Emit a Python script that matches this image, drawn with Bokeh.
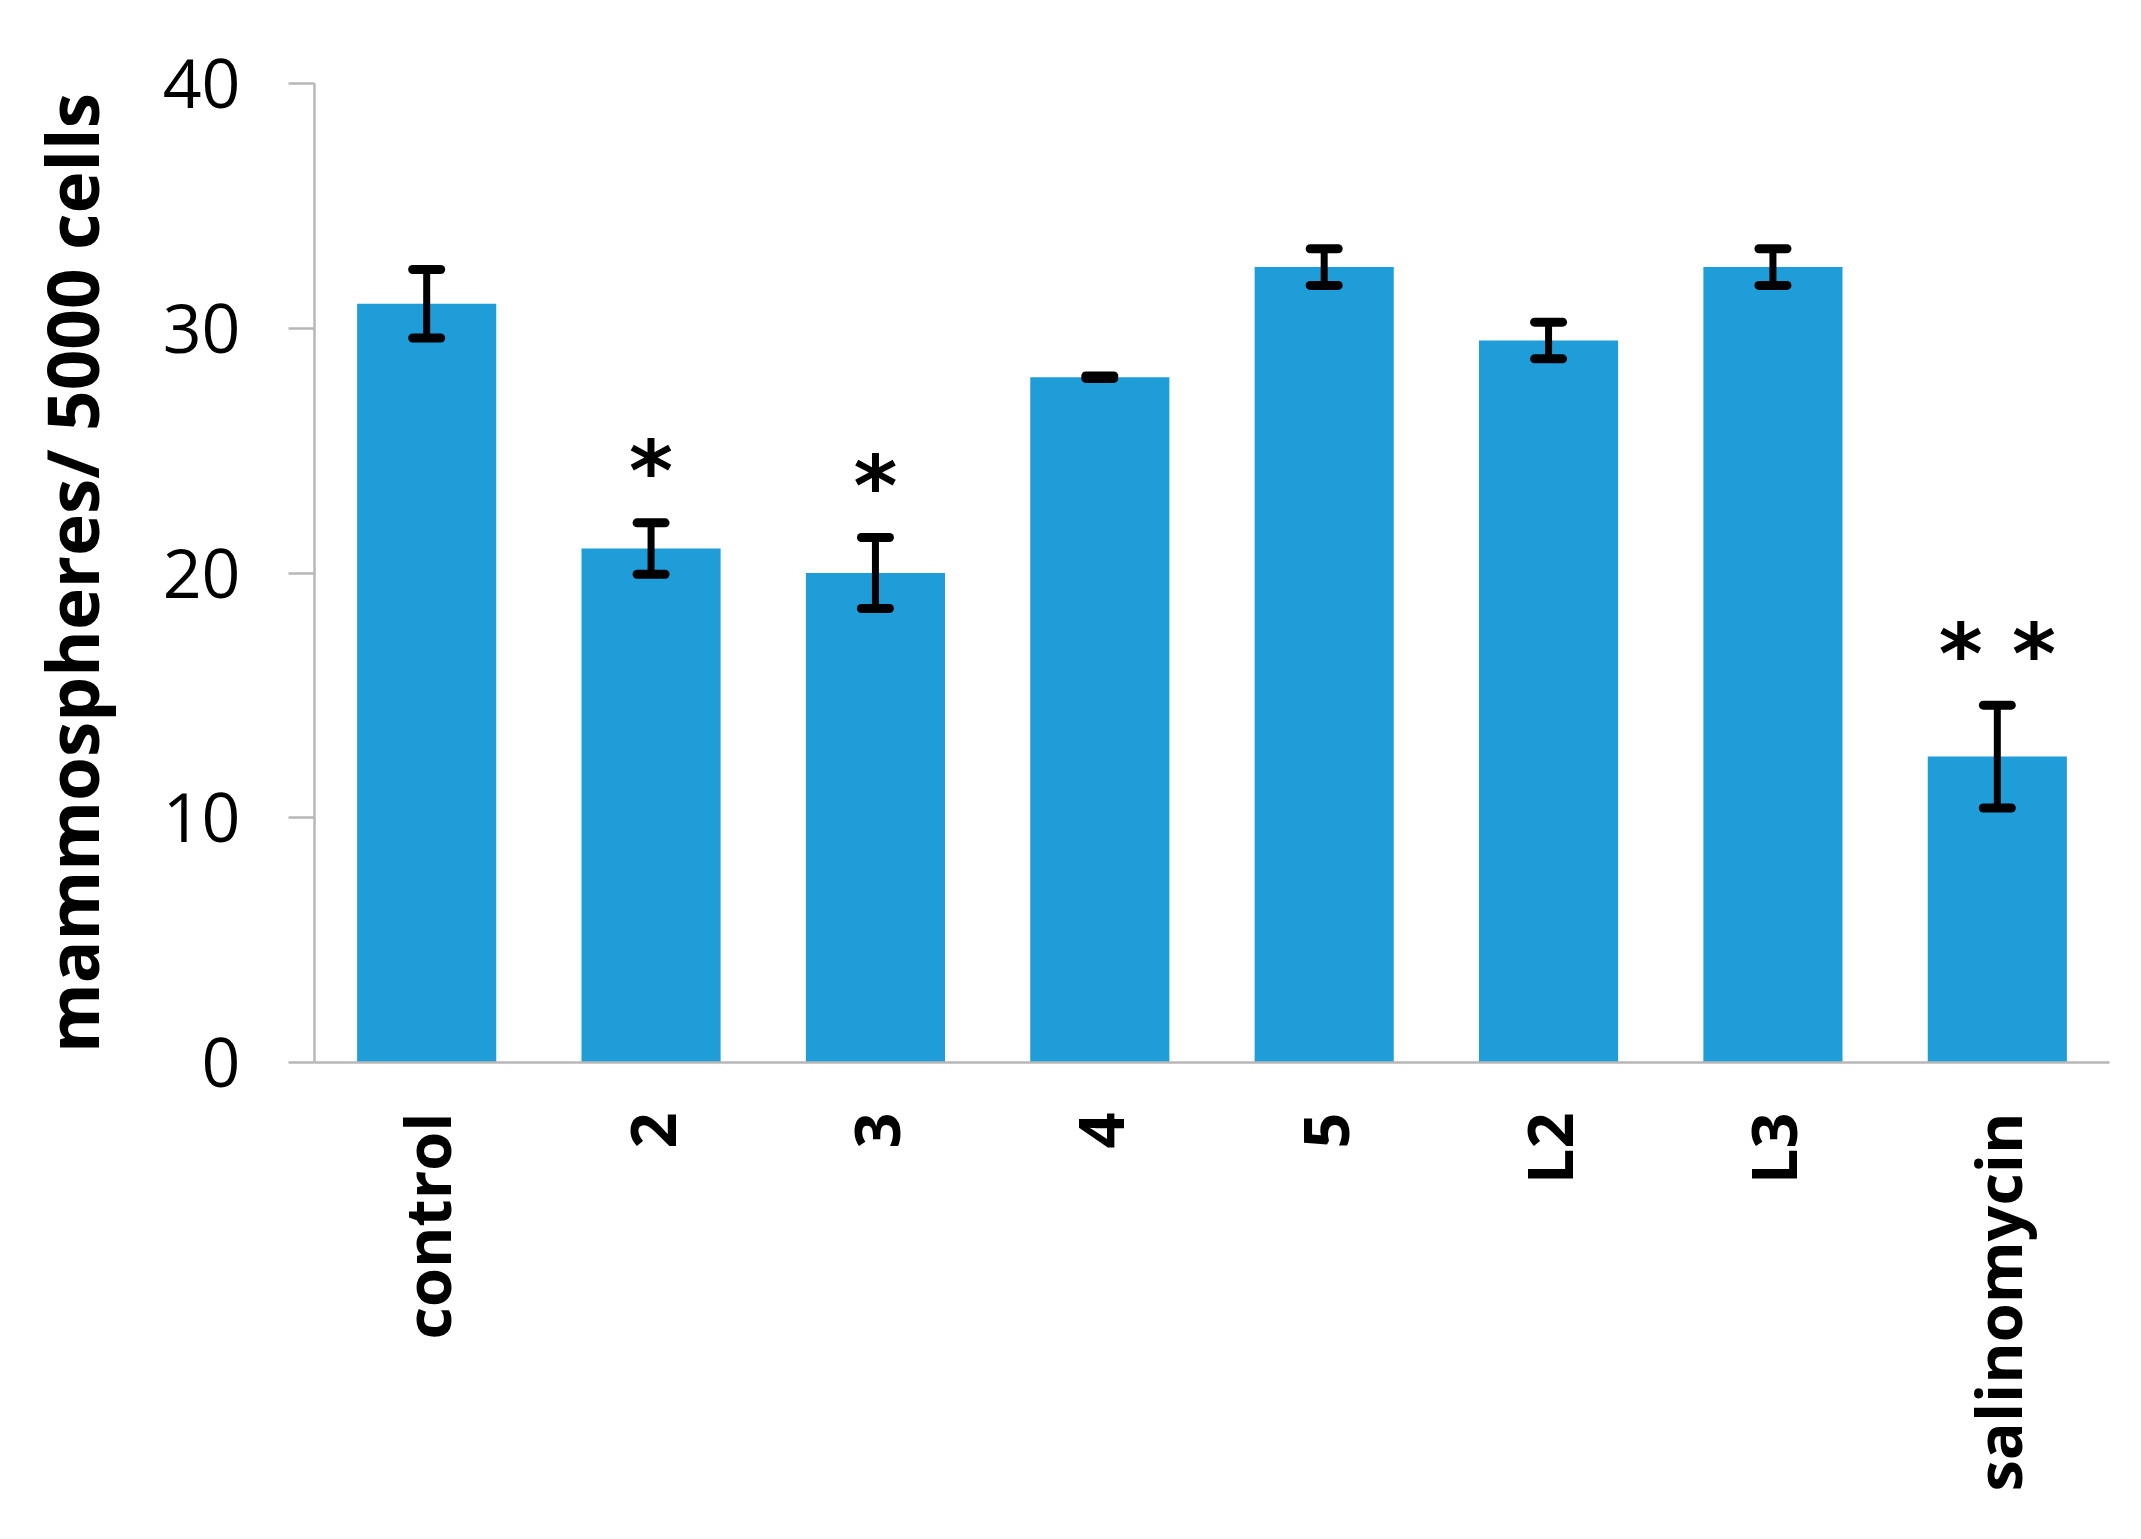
from bokeh.plotting import figure
from bokeh.models import FactorRange, Range1d, FixedTicker, ColumnDataSource, Whisker, TeeHead
from bokeh.core.properties import value
from bokeh.embed import file_html
from bokeh.resources import INLINE

categories = ["control", "2", "3", "4", "5", "L2", "L3", "salinomycin"]
means = [31.0, 21.0, 20.0, 28.0, 32.5, 29.5, 32.5, 12.5]
errors = [1.4, 1.05, 1.45, 0.05, 0.75, 0.75, 0.75, 2.1]
stars = ["", "*", "*", "", "", "", "", "* *"]
y_ticks = [0, 10, 20, 30, 40]

upper = [m + e for m, e in zip(means, errors)]
lower = [m - e for m, e in zip(means, errors)]
star_y = [u + 2.1 for u in upper]

src = ColumnDataSource(dict(cat=categories, mean=means, upper=upper, lower=lower,
                            star=stars, star_y=star_y))

p = figure(x_range=FactorRange(factors=categories, range_padding=0),
           y_range=Range1d(0, 40),
           width=2125, height=1523, output_backend="svg", toolbar_location=None,
           min_border_left=314, min_border_top=83, min_border_right=16, min_border_bottom=461)

p.vbar(x="cat", top="mean", width=0.62, source=src, fill_color="#1e9dd8", line_color=None)

w = Whisker(base="cat", upper="upper", lower="lower", source=src,
            line_color="black", line_width=7, level="overlay",
            upper_head=TeeHead(size=28, line_width=9, line_color="black", line_cap="round"),
            lower_head=TeeHead(size=28, line_width=9, line_color="black", line_cap="round"))
p.add_layout(w)

p.text(x="cat", y="star_y", text="star", source=src, text_align="center", text_baseline="middle",
       text_font=value("DejaVu Sans"), text_font_style="bold", text_font_size="84px",
       text_color="black")

p.grid.visible = False
p.outline_line_color = None
p.background_fill_color = "white"

ax = p.yaxis[0]
ax.ticker = FixedTicker(ticks=y_ticks)
ax.axis_line_color = "#b7b7b7"
ax.axis_line_width = 2.5
ax.major_tick_line_color = "#b7b7b7"
ax.major_tick_line_width = 2.5
ax.major_tick_out = 26
ax.major_tick_in = 0
ax.minor_tick_line_color = None
ax.major_label_standoff = 48
ax.major_label_text_font = "Open Sans"
ax.major_label_text_font_size = "68px"
ax.major_label_text_color = "black"
ax.axis_label = "mammospheres/ 5000 cells"
ax.axis_label_text_font = "Open Sans"
ax.axis_label_text_font_style = "bold"
ax.axis_label_text_font_size = "71px"
ax.axis_label_text_color = "black"
ax.axis_label_standoff = 40

xa = p.xaxis[0]
xa.axis_line_color = "#b7b7b7"
xa.axis_line_width = 2.5
xa.major_tick_line_color = None
xa.minor_tick_line_color = None
xa.major_label_orientation = 3.14159265 / 2
xa.major_label_standoff = 44
xa.major_label_text_font = "Open Sans"
xa.major_label_text_font_style = "bold"
xa.major_label_text_font_size = "63px"
xa.major_label_text_color = "black"

open("out.html", "w").write(file_html(p, INLINE))
